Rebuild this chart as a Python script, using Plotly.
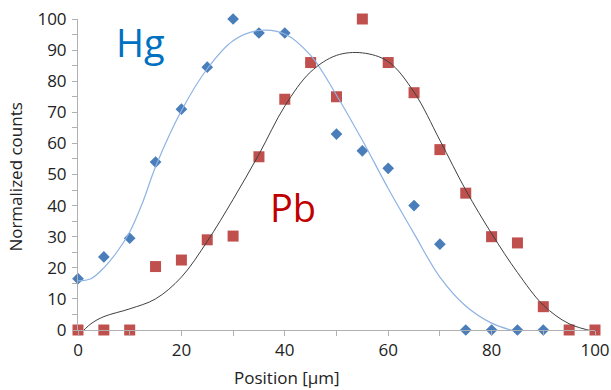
import plotly.graph_objects as go

# Measured data
positions = [0, 5, 10, 15, 20, 25, 30, 35, 40, 45, 50, 55, 60, 65, 70, 75, 80, 85, 90, 95, 100]
hg_x = [0, 5, 10, 15, 20, 25, 30, 35, 40, 45, 50, 55, 60, 65, 70, 75, 80, 85, 90]
hg_counts = [16.5, 23.5, 29.5, 54, 71, 84.5, 100, 95.5, 95.5, 86, 63, 57.6, 52, 40, 27.6, 0, 0, 0, 0]
pb_counts = [0, 0, 0, 20.4, 22.5, 29, 30.2, 55.7, 74.2, 86, 75, 100, 86, 76.3, 58, 44, 30, 28, 7.5, 0, 0]

# Trendline curves
hg_fit_x = [0, 2.5, 5, 7.5, 10, 12.5, 15, 20, 25, 30, 35, 40, 45, 50, 55, 60, 65, 70, 75, 80, 85]
hg_fit_y = [15.8, 16.5, 20, 25, 31.5, 41, 52.5, 70.5, 84, 93, 96.3, 95.2, 88.3, 75.5, 61, 45.5, 31, 17, 7.7, 2.2, -0.6]
pb_fit_x = [0, 2.5, 5, 10, 15, 20, 25, 30, 35, 40, 45, 50, 55, 60, 65, 70, 75, 80, 85, 90, 95, 100]
pb_fit_y = [-2, 2, 4.3, 6.8, 10, 17, 28.5, 42, 56.5, 72, 83, 88.3, 89.1, 86.3, 76.5, 61, 45, 31, 18.5, 8, 2, -0.5]

x_ticks = [0, 20, 40, 60, 80, 100]
y_ticks = [0, 10, 20, 30, 40, 50, 60, 70, 80, 90, 100]

FONT = "Open Sans, Noto Sans, sans-serif"

fig = go.Figure()
fig.add_trace(go.Scatter(x=hg_x, y=hg_counts, mode="markers", cliponaxis=False,
                         marker=dict(symbol="diamond", size=9, color="#4a7ebb",
                                     line=dict(width=0)),
                         showlegend=False))
fig.add_trace(go.Scatter(x=positions, y=pb_counts, mode="markers", cliponaxis=False,
                         marker=dict(symbol="square", size=11, color="#c0504d",
                                     line=dict(width=0)),
                         showlegend=False))
fig.add_trace(go.Scatter(x=hg_fit_x, y=hg_fit_y, mode="lines", line_shape="spline",
                         line=dict(color="#8db3e2", width=1.2), showlegend=False))
fig.add_trace(go.Scatter(x=pb_fit_x, y=pb_fit_y, mode="lines", line_shape="spline",
                         line=dict(color="#404040", width=1), showlegend=False))

fig.add_annotation(x=12, y=92.5, text="Hg", showarrow=False,
                   font=dict(family=FONT, size=38, color="#0070c0"))
fig.add_annotation(x=41.5, y=39.5, text="Pb", showarrow=False,
                   font=dict(family=FONT, size=38, color="#c00000"))

# Axis titles placed as in the reference
fig.add_annotation(x=(287 - 78) / 517, y=-47 / 311, xref="paper", yref="paper",
                   xanchor="center", yanchor="middle",
                   text="Position [μm]", showarrow=False,
                   font=dict(family=FONT, size=17, color="#222222"))
fig.add_annotation(x=-62 / 517, y=0.49, xref="paper", yref="paper",
                   xanchor="center", yanchor="middle",
                   text="Normalized counts", showarrow=False, textangle=-90,
                   font=dict(family=FONT, size=17, color="#222222"))

fig.update_layout(
    width=611, height=390,
    margin=dict(l=78, r=16, t=19, b=60),
    paper_bgcolor="white", plot_bgcolor="white",
    font=dict(family=FONT, size=17, color="#222222"),
)
fig.update_xaxes(range=[0, 100], tickvals=x_ticks, showgrid=False, zeroline=False,
                 automargin=False, ticklabeloverflow="allow",
                 showline=True, linecolor="#b0b0b0", linewidth=1,
                 ticks="outside", ticklen=5, tickcolor="#b0b0b0",
                 minor=dict(dtick=10, ticks="outside", ticklen=5, tickcolor="#b0b0b0"),
                 tickfont=dict(size=17))
fig.update_yaxes(range=[0, 100], tickvals=y_ticks, showgrid=False, zeroline=False,
                 automargin=False, ticklabeloverflow="allow", ticklabelstandoff=2,
                 showline=True, linecolor="#b0b0b0", linewidth=1,
                 ticks="outside", ticklen=5, tickcolor="#b0b0b0",
                 minor=dict(dtick=5, ticks="outside", ticklen=5, tickcolor="#b0b0b0"),
                 tickfont=dict(size=17))

fig.write_html("out.html", config={"displayModeBar": False},
               post_script="document.body.style.margin='0';document.body.style.overflow='hidden';")
